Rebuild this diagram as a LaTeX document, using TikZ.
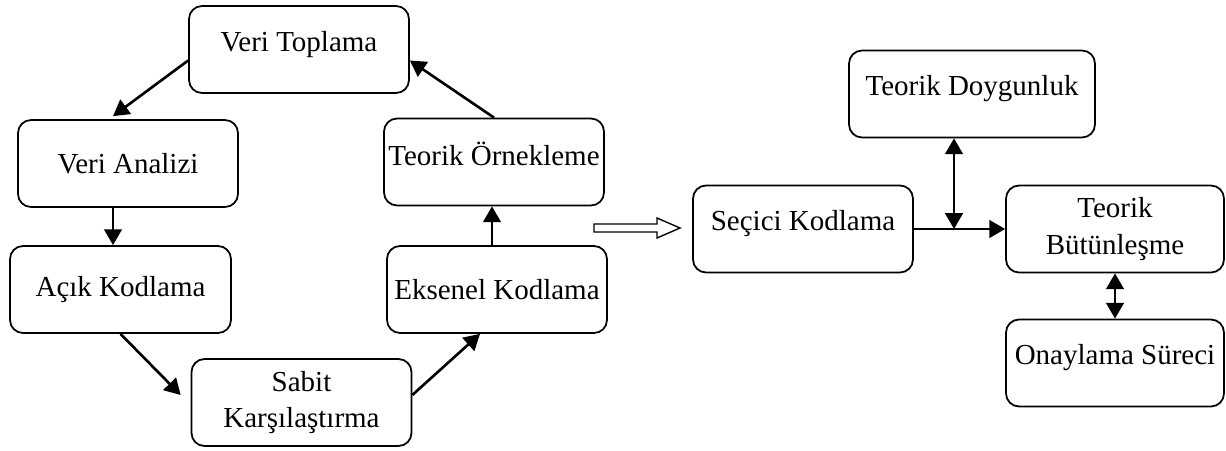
\documentclass[tikz,border=0pt]{standalone}
\usepackage{fontspec}
\setmainfont{Liberation Serif}
\usetikzlibrary{arrows.meta}
\begin{document}
\begin{tikzpicture}[x=0.02cm,y=-0.02cm,
        stage/.style={draw,line width=1pt,rounded corners=0.26cm,minimum width=4.4cm,minimum height=1.74cm,align=center,inner sep=0pt,font=\fontsize{16.5}{21}\selectfont},
        raised/.style={text depth=0.33cm},
        link/.style={line width=1.5pt,-{Triangle[length=9pt,width=10pt]}},
        twoway/.style={line width=1.5pt,{Triangle[length=9pt,width=10pt]}-{Triangle[length=9pt,width=10pt]}}]
        \useasboundingbox (0,0) rectangle (1226,450);
        % cycle on the left
        \node[stage,raised] (vt) at (299,49.5) {Veri Toplama};
        \node[stage] (va) at (128,163.5) {Veri Analizi};
        \node[stage,minimum width=4.42cm] (ak) at (120.5,289.5) {Açık Kodlama};
        \node[stage] (sk) at (301.5,402.5) {Sabit\\Karşılaştırma};
        \node[stage,raised] (to) at (494,162) {Teorik Örnekleme};
        \node[stage] (ek) at (497,289.5) {Eksenel Kodlama};
        \draw [link] ([yshift=-0.22cm]vt.west) -- ([xshift=-0.3cm,yshift=0.06cm]va.north);
        \draw [link] ([xshift=-0.3cm]va.south) -- ([xshift=-0.3cm]va.south |- ak.north);
        \draw [link] (ak.south) -- ([xshift=-0.2cm,yshift=0.15cm]sk.west);
        \draw [link] ([yshift=0.15cm]sk.east) -- ([xshift=-0.34cm]ek.south);
        \draw [link] ([xshift=-0.1cm]ek.north) -- ([xshift=-0.1cm]ek.north |- to.south);
        \draw [link] (to.north) -- ([yshift=-0.22cm]vt.east);
        % hollow arrow
        \draw [line width=0.8pt] (594,224) -- (657,224) -- (657,218) -- (680,228)
            -- (657,238) -- (657,232) -- (594,232) -- cycle;
        % right part
        \node[stage,raised] (sc) at (803,229) {Seçici Kodlama};
        \node[stage,raised,minimum width=4.92cm] (td) at (972,94) {Teorik Doygunluk};
        \node[stage,minimum width=4.36cm] (tb) at (1115,229) {Teorik\\Bütünleşme};
        \node[stage,raised,minimum width=4.36cm] (os) at (1115,363) {Onaylama Süreci};
        \coordinate (j) at (954,229);
        \draw [link] (sc.east) -- (tb.west);
        \draw [twoway] (j |- td.south) -- (j);
        \draw [twoway] (tb.south) -- (os.north);
\end{tikzpicture}
\end{document}
